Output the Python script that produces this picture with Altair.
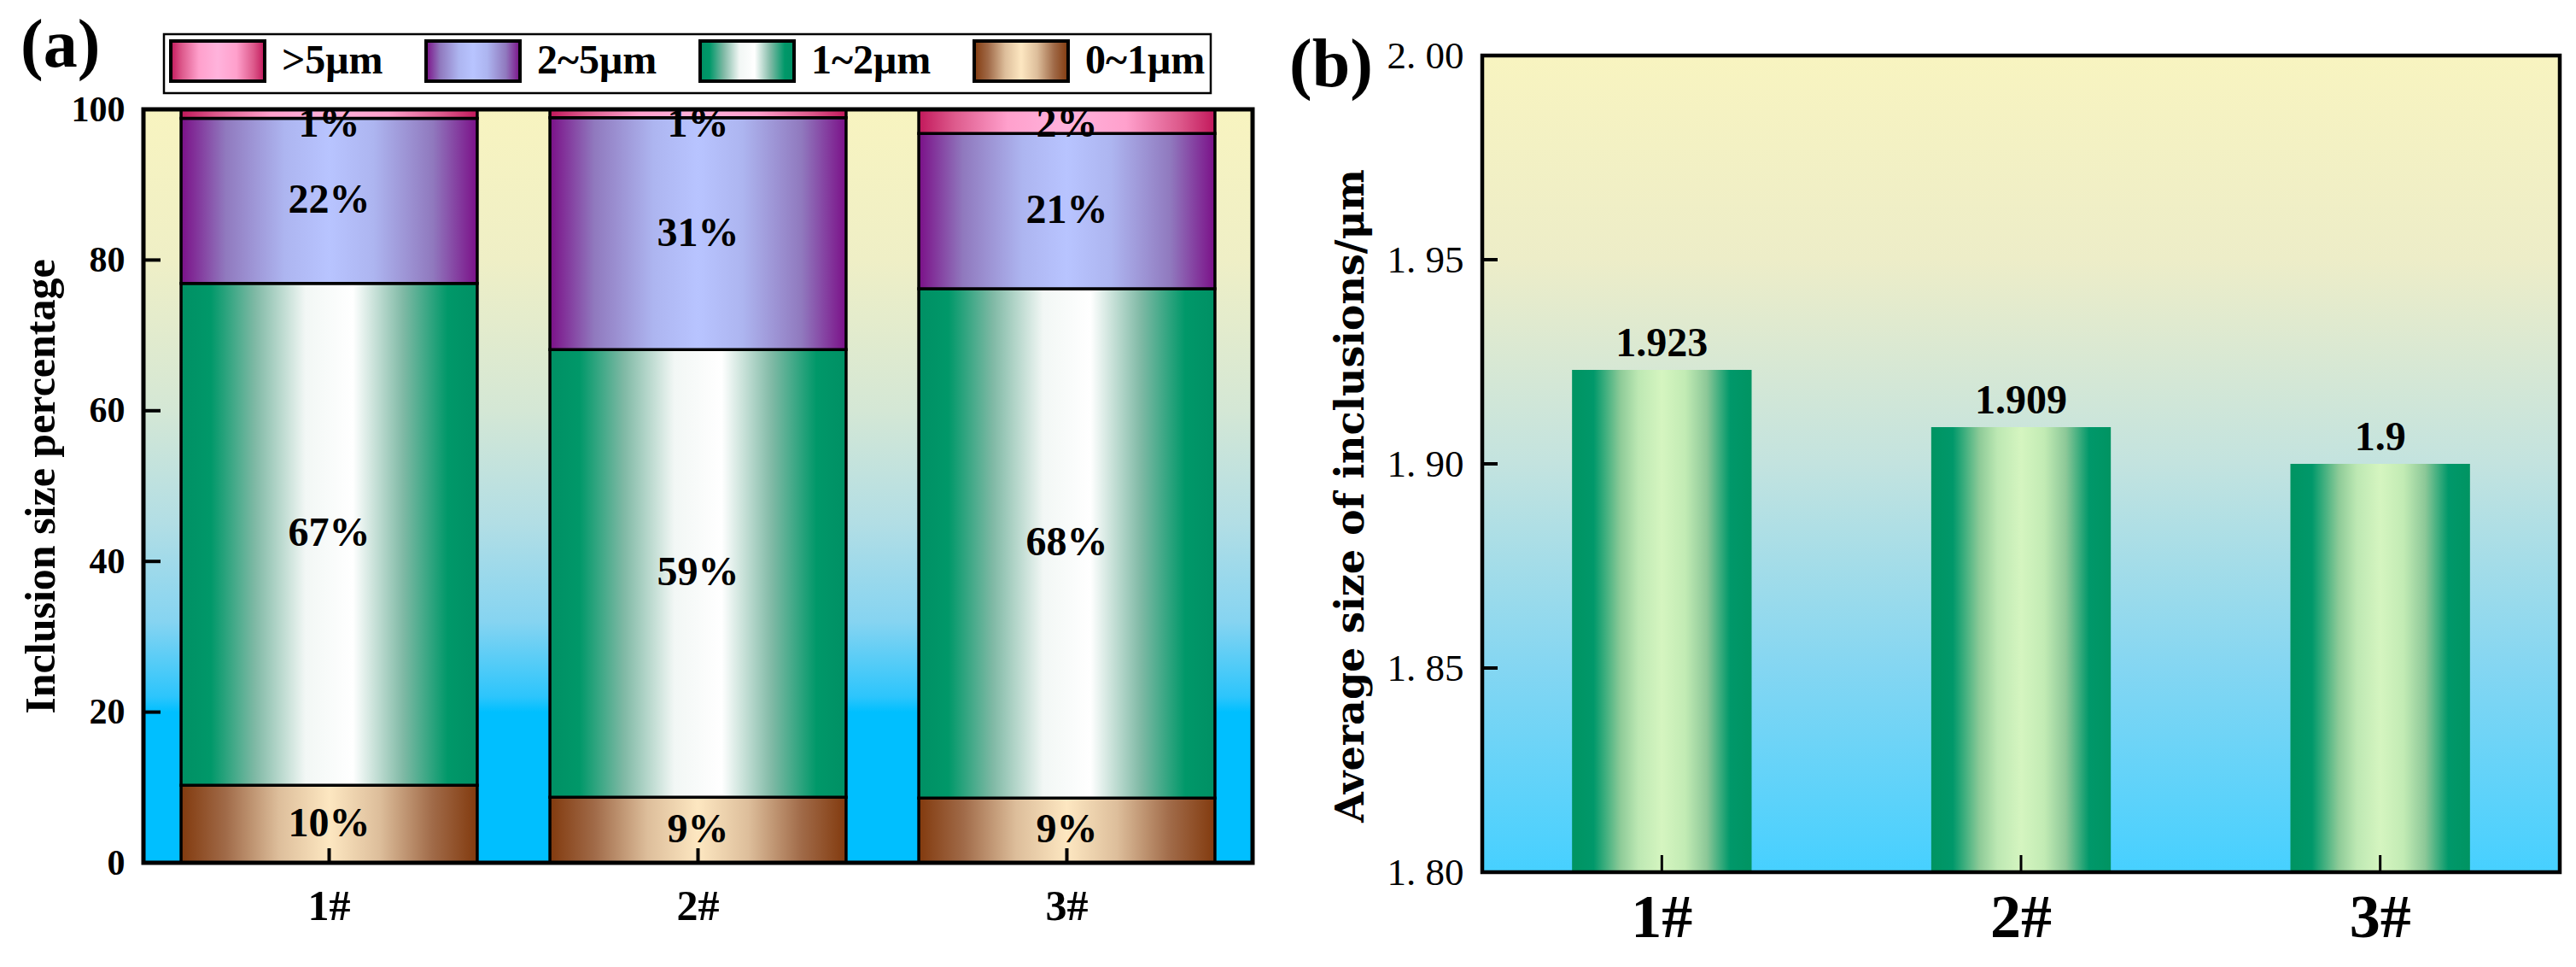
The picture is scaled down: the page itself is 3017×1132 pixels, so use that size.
import altair as alt
import pandas as pd

# ---------------- data ----------------
samples = ["1#", "2#", "3#"]
size_classes = [">5μm", "2~5μm", "1~2μm", "0~1μm"]
pct_0_1 = [10.3, 8.7, 8.6]
pct_1_2 = [66.6, 59.4, 67.6]
pct_2_5 = [21.9, 30.8, 20.6]
pct_gt5 = [1.2, 1.1, 3.2]
lab_0_1 = ["10%", "9%", "9%"]
lab_1_2 = ["67%", "59%", "68%"]
lab_2_5 = ["22%", "31%", "21%"]
lab_gt5 = ["1%", "1%", "2%"]
pct_ticks = [0, 20, 40, 60, 80, 100]

avg_size = [1.923, 1.909, 1.9]
avg_text = ["1.923", "1.909", "1.9"]
size_ticks = [1.80, 1.85, 1.90, 1.95, 2.00]

SERIF = "Liberation Serif"

# ---------------- tables ----------------
rows = []
for ord_, (cls, vals, labs) in enumerate([
    ("0~1μm", pct_0_1, lab_0_1),
    ("1~2μm", pct_1_2, lab_1_2),
    ("2~5μm", pct_2_5, lab_2_5),
    (">5μm", pct_gt5, lab_gt5),
]):
    for s, v, l in zip(samples, vals, labs):
        rows.append({"sample": s, "cls": cls, "ord": ord_, "pct": v, "lab": l})
df_a = pd.DataFrame(rows)
df_b = pd.DataFrame({"sample": samples, "avg": avg_size, "txt": avg_text})
one = pd.DataFrame({"k": [0]})

# ---------------- gradients ----------------
def hgrad_expr(stops):
    s = ",".join("{offset:%s,color:'%s'}" % (o, c) for o, c in stops)
    return {"expr": "{gradient:'linear',x1:0,y1:0,x2:1,y2:0,stops:[" + s + "]}"}

def grad(stops, vertical):
    return alt.LinearGradient(
        gradient="linear",
        stops=[alt.GradientStop(offset=o, color=c) for o, c in stops],
        x1=0, y1=0, x2=0 if vertical else 1, y2=1 if vertical else 0,
    )

bg_a_stops = [(0, "#F8F4C0"), (0.2, "#EFEFC6"), (0.4, "#D4E7D5"), (0.55, "#B2DEE5"),
              (0.68, "#86D4F1"), (0.78, "#2CC5FC"), (0.8, "#00BFFF"), (1, "#00BFFF")]
bg_b_stops = [(0, "#F8F4C0"), (0.25, "#EDEDC8"), (0.5, "#C3E3DF"), (0.75, "#84D6F2"), (1, "#46D0FF")]
gt5_stops = [(0, "#C2185B"), (0.12, "#DD5A8C"), (0.3, "#FFA0CC"), (0.5, "#FFB3DC"),
             (0.7, "#FFA0CC"), (0.88, "#DD5A8C"), (1, "#C2185B")]
p25_stops = [(0, "#7B1088"), (0.15, "#9079BE"), (0.35, "#ADB5F0"), (0.5, "#B8C4FF"),
             (0.65, "#ADB5F0"), (0.85, "#9079BE"), (1, "#7B1088")]
p12_stops = [(0, "#009064"), (0.1, "#009869"), (0.25, "#7FB9A5"), (0.42, "#F2F7F5"),
             (0.58, "#FFFFFF"), (0.75, "#7FB9A5"), (0.9, "#009869"), (1, "#009064")]
p01_stops = [(0, "#823A0E"), (0.15, "#A06A48"), (0.33, "#DDBE9B"), (0.5, "#FDE7C1"),
             (0.67, "#DDBE9B"), (0.85, "#A06A48"), (1, "#823A0E")]
bar_b_stops = [(0, "#009462"), (0.12, "#00986A"), (0.27, "#8ECB98"), (0.37, "#BDE8B3"),
               (0.5, "#D5F5C0"), (0.63, "#C2EBB4"), (0.75, "#8CC898"), (0.88, "#00986A"), (1, "#009462")]

# ---------------- panel (a) ----------------
W_A, H_A = 1299, 945
xs_a = alt.Scale(domain=samples, paddingInner=0.197, paddingOuter=0.102)
ys_a = alt.Scale(domain=[pct_ticks[0], pct_ticks[-1]], range=[H_A, 63], nice=False)

axis_xa = alt.Axis(
    title=None, domain=False, ticks=False, grid=False, labelAngle=0, labelFont=SERIF,
    labelFontSize=50, labelFontWeight="bold", labelColor="black", labelPadding=26)
axis_ya = alt.Axis(
    values=pct_ticks, domain=False, ticks=False, grid=False, labelFont=SERIF,
    labelFontSize=42, labelFontWeight="bold", labelColor="black", labelPadding=22,
    title="Inclusion size percentage", titleFont=SERIF, titleFontSize=50,
    titleFontWeight="bold", titleColor="black", titlePadding=10)

bg_a = alt.Chart(one).mark_rect(fill=grad(bg_a_stops, True)).encode(
    x=alt.value(0), x2=alt.value("width"),
    y=alt.YDatum(pct_ticks[-1], scale=ys_a, axis=axis_ya), y2=alt.Y2Datum(pct_ticks[0]),
)

stack_args = dict(stack="pct", groupby=["sample"], sort=[alt.SortField("ord", order="ascending")], as_=["y0", "y1"])

bars_a = alt.Chart(df_a).transform_stack(**stack_args).mark_bar(
    stroke="black", strokeWidth=3.5, opacity=1
).encode(
    x=alt.X("sample:N", scale=xs_a, axis=axis_xa),
    y=alt.Y("y0:Q", scale=ys_a, axis=axis_ya),
    y2="y1:Q",
    color=alt.Color("cls:N", scale=alt.Scale(
        domain=size_classes,
        range=[hgrad_expr(gt5_stops), hgrad_expr(p25_stops), hgrad_expr(p12_stops), hgrad_expr(p01_stops)]),
        legend=alt.Legend(
            orient="none", legendX=24, legendY=-25, direction="horizontal", title=None,
            symbolType="M-2.34,-1H2.34V1H-2.34Z", symbolSize=2209, symbolOffset=31.5,
            symbolStrokeColor="black", symbolStrokeWidth=4, symbolOpacity=1,
            labelFont=SERIF, labelFontSize=48, labelFontWeight="bold", labelColor="black",
            labelOffset=49.5, labelLimit=0, columnPadding=42, padding=6,
            strokeColor="black", fillColor="white")),
)

txt_a = alt.Chart(df_a).transform_stack(**stack_args).transform_calculate(
    mid="min((datum.y0 + datum.y1) / 2, 98)"
).mark_text(font=SERIF, fontSize=48, fontWeight="bold", baseline="middle", color="black").encode(
    x=alt.X("sample:N", scale=xs_a, axis=axis_xa),
    y=alt.Y("mid:Q", scale=ys_a, axis=axis_ya),
    text="lab:N",
)

ticks_ya = alt.Chart(pd.DataFrame({"t": pct_ticks[1:-1]})).mark_rule(color="black", strokeWidth=4).encode(
    y=alt.Y("t:Q", scale=ys_a, axis=axis_ya), x=alt.value(0), x2=alt.value(20),
)
ticks_xa = alt.Chart(pd.DataFrame({"sample": samples})).mark_rule(
    color="black", strokeWidth=4, y2Offset=-17
).encode(
    x=alt.X("sample:N", scale=xs_a, axis=axis_xa),
    y=alt.YDatum(pct_ticks[0], axis=axis_ya), y2=alt.Y2Datum(pct_ticks[0]),
)
frame_a = alt.Chart(one).mark_rect(filled=False, stroke="black", strokeWidth=5).encode(
    x=alt.value(0), x2=alt.value("width"),
    y=alt.YDatum(pct_ticks[-1], axis=axis_ya), y2=alt.Y2Datum(pct_ticks[0]),
)

panel_a = alt.layer(bg_a, bars_a, txt_a, ticks_ya, ticks_xa, frame_a).properties(
    width=W_A, height=H_A,
    title=alt.TitleParams("(a)", anchor="start", frame="group", orient="top", offset=-30,
                          dx=-144, font=SERIF, fontSize=80,
                          fontWeight="bold", color="black"),
)

# ---------------- panel (b) ----------------
W_B, H_B = 1262, 956
xs_b = alt.Scale(domain=samples, paddingInner=0.5, paddingOuter=0.25)
ys_b = alt.Scale(domain=[size_ticks[0], size_ticks[-1]], nice=False, zero=False)

axis_xb = alt.Axis(
    title=None, domain=False, ticks=False, grid=False, labelAngle=0, labelFont=SERIF,
    labelFontSize=72, labelFontWeight="bold", labelColor="black", labelPadding=18)
axis_yb = alt.Axis(
    values=size_ticks, domain=False, ticks=False, grid=False, labelFont=SERIF,
    labelExpr="replace(format(datum.value, '.2f'), '.', '. ')",
    labelFontSize=45, labelFontWeight="normal", labelColor="black",
    labelPadding=22, title="Average size of inclusions/μm", titleFont="DejaVu Serif",
    titleFontSize=46, titleFontWeight="bold", titleColor="black", titlePadding=18,
    titleY=515)

bg_b = alt.Chart(one).mark_rect(fill=grad(bg_b_stops, True)).encode(
    x=alt.value(0), x2=alt.value("width"),
    y=alt.YDatum(size_ticks[-1], scale=ys_b, axis=axis_yb), y2=alt.Y2Datum(size_ticks[0]),
)
bars_b = alt.Chart(df_b).mark_bar(fill=grad(bar_b_stops, False)).encode(
    x=alt.X("sample:N", scale=xs_b, axis=axis_xb),
    y=alt.Y("avg:Q", scale=ys_b, axis=axis_yb),
    y2=alt.Y2Datum(size_ticks[0]),
)
txt_b = alt.Chart(df_b).mark_text(
    font=SERIF, fontSize=48, fontWeight="bold", baseline="bottom", dy=-6, color="black"
).encode(
    x=alt.X("sample:N", scale=xs_b, axis=axis_xb),
    y=alt.Y("avg:Q", scale=ys_b, axis=axis_yb),
    text="txt:N",
)
ticks_yb = alt.Chart(pd.DataFrame({"t": size_ticks[1:-1]})).mark_rule(color="black", strokeWidth=4).encode(
    y=alt.Y("t:Q", scale=ys_b, axis=axis_yb), x=alt.value(0), x2=alt.value(18),
)
ticks_xb = alt.Chart(pd.DataFrame({"sample": samples})).mark_rule(
    color="black", strokeWidth=3, y2Offset=-20
).encode(
    x=alt.X("sample:N", scale=xs_b, axis=axis_xb),
    y=alt.YDatum(size_ticks[0], axis=axis_yb), y2=alt.Y2Datum(size_ticks[0]),
)
frame_b = alt.Chart(one).mark_rect(filled=False, stroke="black", strokeWidth=4.5).encode(
    x=alt.value(0), x2=alt.value("width"),
    y=alt.YDatum(size_ticks[-1], axis=axis_yb), y2=alt.Y2Datum(size_ticks[0]),
)

panel_b = alt.layer(bg_b, bars_b, txt_b, ticks_yb, ticks_xb, frame_b).properties(
    width=W_B, height=H_B,
    title=alt.TitleParams("(b)", anchor="start", frame="group", orient="top", offset=-75,
                          dx=-226, font=SERIF, fontSize=80,
                          fontWeight="bold", color="black"),
)

chart = alt.hconcat(panel_a, panel_b, spacing=269, bounds="flush").properties(
    padding={"left": 15, "top": 6, "right": 5, "bottom": 10},
    background="white",
).configure_view(stroke=None).configure_legend(strokeWidth=2.5)

chart.save("out.html", embed_options={"renderer": "svg", "actions": False})
